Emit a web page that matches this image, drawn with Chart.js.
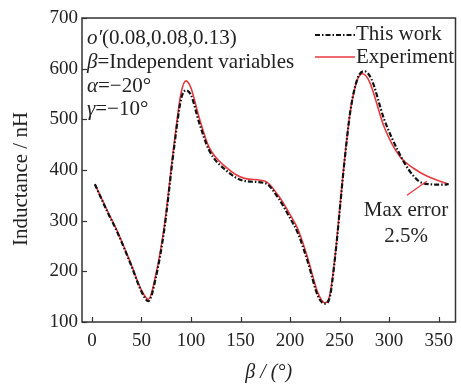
<!DOCTYPE html>
<html>
<head>
<meta charset="utf-8">
<script src="https://cdn.jsdelivr.net/npm/chart.js@4.4.0/dist/chart.umd.min.js"></script>
<style>
  html, body { margin: 0; padding: 0; background: #fff; }
  #wrap { width: 461px; height: 386px; }
</style>
</head>
<body>
<div id="wrap"><canvas id="grafico" width="461" height="386"></canvas></div>
<script>
const betaExp = [3, 15, 25, 40, 50, 57, 65, 73, 83, 90, 95, 100, 108, 118, 135, 155, 175, 188, 200, 208, 218, 228, 235, 240, 245, 255, 261, 268, 273, 280, 295, 311, 325, 338, 350, 360];
const valExp = [372, 322, 282, 212, 163, 145, 198, 288, 452, 552, 576, 562, 505, 446, 406, 383, 378, 350, 312, 283, 225, 158, 138, 152, 222, 420, 518, 578, 590, 575, 485, 426, 403, 388, 379, 372];

const betaWork = [3, 15, 25, 40, 50, 57, 65, 73, 83, 90, 95, 100, 108, 118, 135, 155, 175, 188, 200, 208, 218, 228, 235, 240, 245, 255, 261, 268, 275, 282, 295, 311, 320, 330, 340, 355, 360];
const valWork = [372, 320, 280, 210, 160, 141, 192, 282, 445, 540, 557, 548, 495, 440, 400, 378, 374, 345, 305, 275, 218, 152, 136, 148, 220, 418, 518, 580, 595, 580, 500, 430, 400, 378, 372, 371, 372];

const yTicks = [100, 200, 300, 400, 500, 600, 700];
const xTicks = [0, 50, 100, 150, 200, 250, 300, 350];

const serif = "'Liberation Serif', 'Times New Roman', serif";

function puntos(xs, ys) {
  return xs.map((x, i) => ({ x: x, y: ys[i] }));
}

// ticks hacia adentro + marco + textos
const extras = {
  id: "extras",
  afterDraw(chart) {
    const ctx = chart.ctx;
    const a = chart.chartArea;
    const sx = chart.scales.x;
    const sy = chart.scales.y;
    ctx.save();
    ctx.strokeStyle = "#333";
    ctx.lineWidth = 1.5;
    ctx.strokeRect(a.left, a.top, a.right - a.left, a.bottom - a.top);
    ctx.lineWidth = 1.2;
    xTicks.forEach(t => {
      const px = Math.round(sx.getPixelForValue(t)) + 0.5;
      ctx.beginPath();
      ctx.moveTo(px, a.bottom);
      ctx.lineTo(px, a.bottom - 5);
      ctx.stroke();
    });
    yTicks.forEach(t => {
      const py = Math.round(sy.getPixelForValue(t)) + 0.5;
      ctx.beginPath();
      ctx.moveTo(a.left, py);
      ctx.lineTo(a.left + 5, py);
      ctx.stroke();
    });

    // titulo eje y
    ctx.fillStyle = "#222";
    ctx.font = "21px " + serif;
    ctx.textAlign = "center";
    ctx.textBaseline = "middle";
    ctx.save();
    ctx.translate(21, 179);
    ctx.rotate(-Math.PI / 2);
    ctx.fillText("Inductance / nH", 0, 0);
    ctx.restore();

    // textos de condiciones
    ctx.textAlign = "left";
    const x0 = a.left + 5;
    const linea = (y, partes) => {
      let x = x0;
      partes.forEach(([txt, it]) => {
        ctx.font = (it ? "italic " : "") + "21px " + serif;
        ctx.fillText(txt, x, y);
        x += ctx.measureText(txt).width;
      });
    };
    linea(38, [["o\u2032", true], ["(0.08,0.08,0.13)", false]]);
    linea(62, [["\u03b2", true], ["=Independent variables", false]]);
    linea(86, [["\u03b1", true], ["=\u221220\u00b0", false]]);
    linea(109, [["\u03b3", true], ["=\u221210\u00b0", false]]);

    // leyenda
    ctx.font = "21px " + serif;
    ctx.lineWidth = 2;
    ctx.strokeStyle = "#111";
    ctx.setLineDash([5, 2, 1.5, 2]);
    ctx.beginPath();
    ctx.moveTo(315, 35);
    ctx.lineTo(355, 35);
    ctx.stroke();
    ctx.setLineDash([]);
    ctx.strokeStyle = "#e8393f";
    ctx.lineWidth = 1.6;
    ctx.beginPath();
    ctx.moveTo(315, 57);
    ctx.lineTo(355, 57);
    ctx.stroke();
    ctx.fillStyle = "#222";
    ctx.fillText("This work", 356, 34);
    ctx.fillText("Experiment", 356, 57);

    // anotacion de error
    ctx.strokeStyle = "#e8393f";
    ctx.lineWidth = 1.2;
    ctx.beginPath();
    ctx.moveTo(sx.getPixelForValue(318), sy.getPixelForValue(350));
    ctx.lineTo(sx.getPixelForValue(338), sy.getPixelForValue(378));
    ctx.stroke();
    ctx.textAlign = "center";
    ctx.fillText("Max error", 406, 210);
    ctx.fillText("2.5%", 406, 236);
    ctx.restore();
  }
};

new Chart(document.getElementById("grafico"), {
  type: "line",
  data: {
    datasets: [{
      label: "This work",
      data: puntos(betaWork, valWork),
      borderColor: "#111",
      borderWidth: 2.2,
      borderDash: [5, 2, 1.5, 2],
      fill: false,
      pointRadius: 0,
      cubicInterpolationMode: "monotone"
    }, {
      label: "Experiment",
      data: puntos(betaExp, valExp),
      borderColor: "#e8393f",
      borderWidth: 1.6,
      fill: false,
      pointRadius: 0,
      cubicInterpolationMode: "monotone"
    }]
  },
  options: {
    responsive: false,
    animation: false,
    layout: { padding: { top: 18, right: 2, left: 0, bottom: 0 } },
    plugins: { legend: { display: false }, tooltip: { enabled: false } },
    scales: {
      x: {
        type: "linear",
        min: -10,
        max: 367,
        afterBuildTicks: s => { s.ticks = xTicks.map(v => ({ value: v })); },
        afterFit: s => { s.height = 64; },
        grid: { display: false, drawTicks: false },
        border: { display: false },
        ticks: { color: "#222", padding: 8, font: { family: serif, size: 19 } },
        title: { display: true, text: "\u03b2 / (\u00b0)", color: "#222", padding: { top: 0, bottom: 1 }, font: { family: serif, size: 20, style: "italic" } }
      },
      y: {
        min: 100,
        max: 700,
        afterBuildTicks: s => { s.ticks = yTicks.map(v => ({ value: v })); },
        afterFit: s => { s.width = 82; },
        grid: { display: false, drawTicks: false },
        border: { display: false },
        ticks: { color: "#222", padding: 4, font: { family: serif, size: 19 } },
        title: { display: false }
      }
    }
  },
  plugins: [extras]
});
</script>
</body>
</html>
